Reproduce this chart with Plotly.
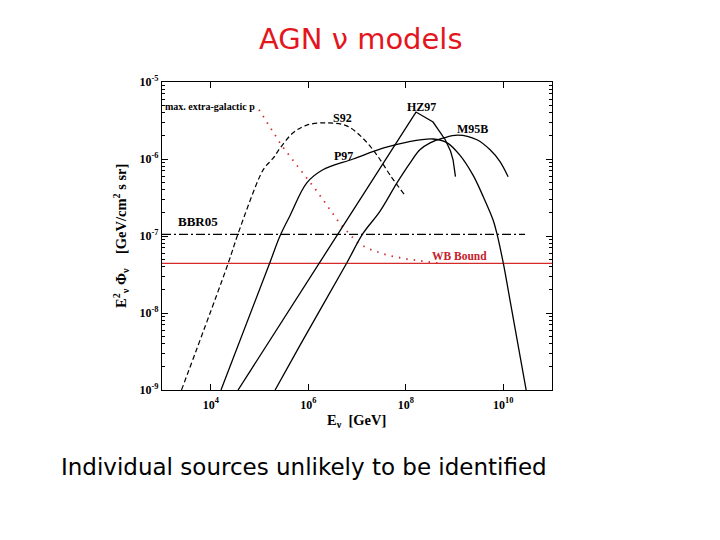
import numpy as np
import plotly.graph_objects as go

# ---- data (log10 of E [GeV] and log10 of E^2 Phi) ----
s92_logE = [3.40, 4.36, 4.56, 5.01, 5.12, 5.28, 5.42, 5.69, 5.97, 6.38, 6.79, 7.12, 7.41, 7.68, 7.98]
s92_logF = [-9.0, -7.35, -6.97, -6.22, -6.10, -5.99, -5.86, -5.66, -5.56, -5.53, -5.57, -5.73, -5.95, -6.21, -6.47]

p97_logE = [4.21, 5.21, 5.42, 5.63, 5.97, 6.30, 6.92, 7.53, 8.03, 8.56, 8.85, 9.11, 9.38, 9.59, 9.79, 9.87, 10.0, 10.14, 10.47]
p97_logF = [-9.0, -7.35, -7.00, -6.73, -6.31, -6.14, -6.00, -5.86, -5.78, -5.74, -5.79, -5.95, -6.21, -6.49, -6.79, -6.97, -7.35, -7.84, -9.0]

hz97_logE = [4.56, 8.21, 8.56, 8.81, 8.92, 8.97, 9.02]
hz97_logF = [-9.0, -5.39, -5.52, -5.75, -5.90, -6.01, -6.23]

m95b_logE = [5.32, 5.83, 6.79, 7.12, 7.47, 7.82, 8.09, 8.29, 8.50, 8.76, 9.07, 9.46, 9.73, 9.93, 10.10]
m95b_logF = [-9.0, -8.42, -7.35, -6.97, -6.68, -6.31, -6.05, -5.88, -5.79, -5.73, -5.69, -5.75, -5.88, -6.03, -6.23]

maxp_logE = [4.99, 5.46, 6.18, 6.65, 7.00, 7.21, 7.62, 8.03, 8.50, 8.70]
maxp_logF = [-5.36, -5.83, -6.42, -6.84, -7.08, -7.16, -7.25, -7.30, -7.34, -7.355]

bbr05_E = [1e3, 2.8e10]
bbr05_F = [1.05e-7, 1.05e-7]

wb_E = [1e3, 1e11]
wb_F = [4.4e-8, 4.4e-8]

x_tickvals = [1e4, 1e6, 1e8, 1e10]
x_ticktext = ["<b>10<sup>4</sup></b>", "<b>10<sup>6</sup></b>", "<b>10<sup>8</sup></b>", "<b>10<sup>10</sup></b>"]
y_tickvals = [1e-9, 1e-8, 1e-7, 1e-6, 1e-5]
y_ticktext = ["<b>10<sup>-9</sup></b>", "<b>10<sup>-8</sup></b>", "<b>10<sup>-7</sup></b>",
              "<b>10<sup>-6</sup></b>", "<b>10<sup>-5</sup></b>"]


def lin(v):
    return 10 ** np.array(v)


fig = go.Figure()

fig.add_trace(go.Scatter(x=wb_E, y=wb_F, mode="lines",
                         line=dict(color="#d42a2a", width=1.3)))
fig.add_trace(go.Scatter(x=bbr05_E, y=bbr05_F, mode="lines",
                         line=dict(color="black", width=1.2, dash="9px,3px,2px,3px")))
fig.add_trace(go.Scatter(x=lin(maxp_logE), y=lin(maxp_logF), mode="lines",
                         line=dict(color="#d03030", width=1.8, dash="1.5px,6px")))
fig.add_trace(go.Scatter(x=lin(s92_logE), y=lin(s92_logF), mode="lines", line_shape="spline",
                         line=dict(color="black", width=1.2, dash="5px,3px")))
fig.add_trace(go.Scatter(x=lin(p97_logE), y=lin(p97_logF), mode="lines", line_shape="spline",
                         line=dict(color="black", width=1.3)))
fig.add_trace(go.Scatter(x=lin(hz97_logE), y=lin(hz97_logF), mode="lines",
                         line=dict(color="black", width=1.3)))
fig.add_trace(go.Scatter(x=lin(m95b_logE), y=lin(m95b_logF), mode="lines", line_shape="spline",
                         line=dict(color="black", width=1.3)))

# plot-area edges in page pixels (page body has an 8px margin)
OFF = 8
L, R, T, B = 162, 552, 82, 390
W = R - L
H = B - T


def px(x):
    return (x - L) / W


def py(y):
    return (B - y) / H


serif = "Liberation Serif"
ann = []


def label(text, x, y, size, color="black", xanchor="center", angle=0, family=serif):
    ann.append(dict(text=text, x=px(x), y=py(y), xref="paper", yref="paper",
                    showarrow=False, xanchor=xanchor, yanchor="middle",
                    textangle=angle, font=dict(family=family, size=size, color=color)))


label("<b>max. extra-galactic p</b>", 163, 106, 10, xanchor="left")
label("<b>S92</b>", 342, 118, 12)
label("<b>P97</b>", 343, 156, 12)
label("<b>HZ97</b>", 421, 107, 12)
label("<b>M95B</b>", 472, 129, 12)
label("<b>BBR05</b>", 198, 221, 13)
label("<b>WB Bound</b>", 459, 256, 11.5, color="#c8202a")
label("<b>E<sub>ν</sub>  [GeV]</b>", 356, 421, 14.5)
label("<b>E<sup>2</sup><sub>ν</sub> Φ<sub>ν</sub>    [GeV/cm<sup>2</sup> s sr]</b>", 121, 236, 14.5, angle=-90)
label("AGN ν models", 361, 39, 29, color="#e3161e", family="DejaVu Sans")
label("Individual sources unlikely to be identified", 304, 467, 23, family="DejaVu Sans")

fig.update_layout(annotations=ann)

minor_y = [m * 10.0 ** e for e in range(-9, -5) for m in range(2, 10)]

fig.update_xaxes(type="log", range=[3, 11], tickvals=x_tickvals, ticktext=x_ticktext,
                 ticks="inside", ticklen=6, tickwidth=1, tickcolor="black",
                 showline=True, linecolor="black", linewidth=1.2, mirror="ticks",
                 showgrid=False, zeroline=False, ticklabelstandoff=3,
                 tickfont=dict(family=serif, size=12, color="black"))
fig.update_yaxes(type="log", range=[-9, -5], tickvals=y_tickvals, ticktext=y_ticktext,
                 ticks="inside", ticklen=6, tickwidth=1, tickcolor="black",
                 showline=True, linecolor="black", linewidth=1.2, mirror="ticks",
                 showgrid=False, zeroline=False,
                 minor=dict(tickvals=minor_y, ticks="inside", ticklen=3, tickcolor="black", showgrid=False),
                 tickfont=dict(family=serif, size=12, color="black"))

fig.update_layout(width=720, height=540, autosize=False,
                  margin=dict(l=L - OFF, r=720 - (R - OFF), t=T - OFF, b=540 - (B - OFF)),
                  paper_bgcolor="white", plot_bgcolor="white",
                  showlegend=False)

fig.write_html("out.html")
